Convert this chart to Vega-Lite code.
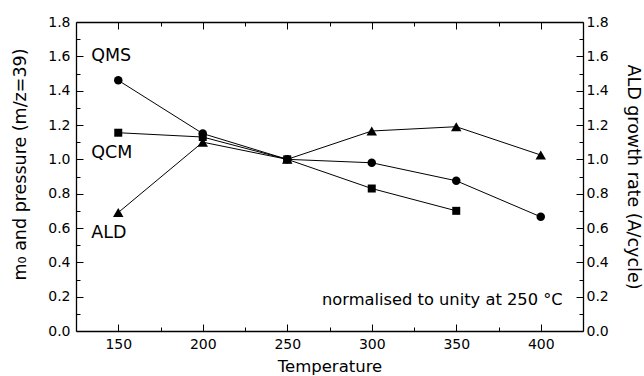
{
  "$schema": "https://vega.github.io/schema/vega-lite/v6.json",
  "width": 507,
  "height": 309,
  "autosize": "none",
  "padding": {"left": 76, "top": 22, "right": 61, "bottom": 45},
  "background": "white",
  "config": {
    "view": {"stroke": null},
    "font": "DejaVu Sans",
    "axis": {
      "grid": false,
      "domainColor": "black",
      "domainWidth": 1.3,
      "tickColor": "black",
      "tickWidth": 1,
      "labelColor": "black",
      "titleColor": "black",
      "labelFont": "DejaVu Sans",
      "titleFont": "DejaVu Sans",
      "labelFontSize": 14,
      "titleFontSize": 17.5,
      "titleFontWeight": "normal"
    }
  },
  "data": {
    "values": [
      {"series": "QMS", "temp": 150, "value": 1.46},
      {"series": "QMS", "temp": 200, "value": 1.15},
      {"series": "QMS", "temp": 250, "value": 1.0},
      {"series": "QMS", "temp": 300, "value": 0.98},
      {"series": "QMS", "temp": 350, "value": 0.875},
      {"series": "QMS", "temp": 400, "value": 0.665},
      {"series": "QCM", "temp": 150, "value": 1.155},
      {"series": "QCM", "temp": 200, "value": 1.13},
      {"series": "QCM", "temp": 250, "value": 1.0},
      {"series": "QCM", "temp": 300, "value": 0.83},
      {"series": "QCM", "temp": 350, "value": 0.70},
      {"series": "ALD", "temp": 150, "value": 0.69},
      {"series": "ALD", "temp": 200, "value": 1.10},
      {"series": "ALD", "temp": 250, "value": 1.0},
      {"series": "ALD", "temp": 300, "value": 1.165},
      {"series": "ALD", "temp": 350, "value": 1.19},
      {"series": "ALD", "temp": 400, "value": 1.025}
    ]
  },
  "resolve": {"axis": {"x": "independent", "y": "independent"}},
  "layer": [
    {
      "mark": {"type": "line", "color": "black", "strokeWidth": 1},
      "encoding": {
        "x": {
          "field": "temp", "type": "quantitative",
          "scale": {"domain": [125, 425], "nice": false, "zero": false},
          "axis": {
            "orient": "bottom",
            "values": [150, 175, 200, 225, 250, 275, 300, 325, 350, 375, 400],
            "labelExpr": "datum.value % 50 == 0 ? datum.label : ''",
            "tickSize": {"condition": {"test": "datum.value % 50 != 0", "value": -4}, "value": -7},
            "labelPadding": 13,
            "title": "Temperature",
            "titleFontSize": 16.5,
            "titlePadding": 7
          }
        },
        "y": {
          "field": "value", "type": "quantitative",
          "scale": {"domain": [0, 1.8], "nice": false},
          "axis": {
            "orient": "left",
            "values": [0, 0.1, 0.2, 0.3, 0.4, 0.5, 0.6, 0.7, 0.8, 0.9, 1.0, 1.1, 1.2, 1.3, 1.4, 1.5, 1.6, 1.7, 1.8],
            "labelExpr": "round(datum.value * 10) % 2 == 0 ? format(datum.value, '.1f') : ''",
            "tickSize": {"condition": {"test": "round(datum.value * 10) % 2 != 0", "value": -4}, "value": -7},
            "labelPadding": 13,
            "title": "m₀ and pressure (m/z=39)",
            "titlePadding": 18,
            "titleY": 142
          }
        },
        "detail": {"field": "series"}
      }
    },
    {
      "transform": [{"filter": "datum.series == 'QMS'"}],
      "mark": {"type": "point", "shape": "circle", "filled": true, "color": "black", "opacity": 1, "size": 72},
      "encoding": {
        "x": {
          "field": "temp", "type": "quantitative",
          "axis": {
            "orient": "top",
            "values": [150, 175, 200, 225, 250, 275, 300, 325, 350, 375, 400],
            "labels": false,
            "tickSize": {"condition": {"test": "datum.value % 50 != 0", "value": -4}, "value": -7},
            "title": null
          }
        },
        "y": {
          "field": "value", "type": "quantitative",
          "axis": {
            "orient": "right",
            "values": [0, 0.1, 0.2, 0.3, 0.4, 0.5, 0.6, 0.7, 0.8, 0.9, 1.0, 1.1, 1.2, 1.3, 1.4, 1.5, 1.6, 1.7, 1.8],
            "labelExpr": "round(datum.value * 10) % 2 == 0 ? format(datum.value, '.1f') : ''",
            "tickSize": {"condition": {"test": "round(datum.value * 10) % 2 != 0", "value": -4}, "value": -7},
            "labelPadding": 10,
            "title": "ALD growth rate (A/cycle)",
            "titleAngle": 90,
            "titlePadding": 15
          }
        }
      }
    },
    {
      "transform": [{"filter": "datum.series == 'QCM'"}],
      "mark": {"type": "point", "shape": "square", "filled": true, "color": "black", "opacity": 1, "size": 64},
      "encoding": {
        "x": {"field": "temp", "type": "quantitative", "axis": null},
        "y": {"field": "value", "type": "quantitative", "axis": null}
      }
    },
    {
      "transform": [{"filter": "datum.series == 'ALD'"}],
      "mark": {"type": "point", "shape": "triangle-up", "filled": true, "color": "black", "opacity": 1, "size": 110},
      "encoding": {
        "x": {"field": "temp", "type": "quantitative", "axis": null},
        "y": {"field": "value", "type": "quantitative", "axis": null}
      }
    },
    {
      "data": {
        "values": [
          {"label": "QMS", "tx": 134, "ty": 1.6},
          {"label": "QCM", "tx": 134, "ty": 1.035},
          {"label": "ALD", "tx": 134, "ty": 0.57}
        ]
      },
      "mark": {"type": "text", "align": "left", "baseline": "middle", "fontSize": 17.5, "font": "DejaVu Sans", "color": "black"},
      "encoding": {
        "x": {"field": "tx", "type": "quantitative", "axis": null},
        "y": {"field": "ty", "type": "quantitative", "axis": null},
        "text": {"field": "label"}
      }
    },
    {
      "data": {
        "values": [
          {"label": "normalised to unity at 250 °C", "tx": 413, "ty": 0.18}
        ]
      },
      "mark": {"type": "text", "align": "right", "baseline": "middle", "fontSize": 16.3, "font": "DejaVu Sans", "color": "black"},
      "encoding": {
        "x": {"field": "tx", "type": "quantitative", "axis": null},
        "y": {"field": "ty", "type": "quantitative", "axis": null},
        "text": {"field": "label"}
      }
    }
  ]
}
